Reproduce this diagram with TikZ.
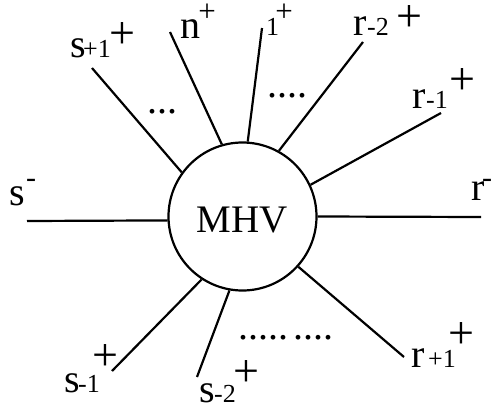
\documentclass[tikz,border=0pt]{standalone}
\usepackage{fontspec}
\setmainfont{Liberation Serif}
\newfontfamily\tms{Liberation Serif}
\begin{document}
\begin{tikzpicture}[x=1pt,y=-1pt,
  big/.style={font=\tms\fontsize{40}{40}\selectfont, inner sep=0pt, anchor=base west},
  sml/.style={font=\tms\fontsize{26}{26}\selectfont, inner sep=0pt, anchor=base west},
  supp/.style={font=\tms\fontsize{46}{46}\selectfont, inner sep=0pt, anchor=center},
  supps/.style={font=\tms\fontsize{31}{31}\selectfont, inner sep=0pt, anchor=center},
  dsh/.style={font=\tms\fontsize{30}{30}\selectfont, inner sep=0pt, anchor=base west},
  leg/.style={line width=2.2pt},
  dots/.style={font=\tms\fontsize{40}{40}\selectfont, inner sep=0pt, anchor=base west}]
\useasboundingbox (0,0) rectangle (496,407);

\node[circle, draw, line width=2.2pt, minimum size=148pt, inner sep=0pt] (mhv) at (242.5,216.5) {};
\node[font=\tms\fontsize{39}{39}\selectfont, inner sep=0pt] (mhvt) at (242,220.5) {MHV};

% free ends
\coordinate (esm) at (27,221);
\coordinate (erm) at (481,217);
\coordinate (esp1) at (92,68);
\coordinate (en) at (170,32);
\coordinate (e1) at (262,28);
\coordinate (erm2) at (363,42);
\coordinate (erm1) at (441,113);
\coordinate (erp1) at (404,357);
\coordinate (esm1) at (112,371);
\coordinate (esm2) at (197,377);

\draw[leg] (mhv.183.5) -- (esm);
\draw[leg] (mhv.0) -- (erm);
\draw[leg] (mhv.144.3) -- (esp1);
\draw[leg] (mhv.106.4) -- (en);
\draw[leg] (mhv.86.5) -- (e1);
\draw[leg] (mhv.61.2) -- (erm2);
\draw[leg] (mhv.25.4) -- (erm1);
\draw[leg] (mhv.-42.3) -- (erp1);
\draw[leg] (mhv.-123.8) -- (esm1);
\draw[leg] (mhv.-100) -- (esm2);

% labels
\node[big] (lsp1) at (70,57) {s};
\node[sml] (lsp1s) at (83,57) {+1};
\node[supp] (lsp1p) at (122,36) {+};

\node[big] (ln) at (180,38) {n};
\node[supps] (lnp) at (207,12.5) {+};

\node[sml] (l1) at (266,35) {1};
\node[supps] (l1p) at (284,13) {+};

\node[big] (lrm2) at (353,35) {r};
\node[sml] (lrm2s) at (367,35) {-2};
\node[supp] (lrm2p) at (409,19) {+};

\node[big] (lrm1) at (412,108) {r};
\node[sml] (lrm1s) at (426,108) {-1};
\node[supp] (lrm1p) at (462,82) {+};

\node[big] (lrm) at (471,200) {r};
\node[dsh] (lrmd) at (482,187) {-};

\node[big] (lsm) at (9,205) {s};
\node[dsh] (lsmd) at (26,187) {-};

\node[big] (lsm1) at (64,392) {s};
\node[sml] (lsm1s) at (78,392) {-1};
\node[supp] (lsm1p) at (105,358) {+};

\node[big] (lsm2) at (199,402) {s};
\node[sml] (lsm2s) at (214,402) {-2};
\node[supp] (lsm2p) at (246,374) {+};

\node[big] (lrp1) at (411,367) {r};
\node[sml] (lrp1s) at (428,367) {+1};
\node[supp] (lrp1p) at (461,336) {+};

% dots
\node[dots] (d1) at (147,113) {...};
\node[dots] (d2) at (267,97) {....};
\node[dots] (d3) at (238,339) {.....};
\node[dots] (d4) at (293,339) {....};
\end{tikzpicture}
\end{document}
